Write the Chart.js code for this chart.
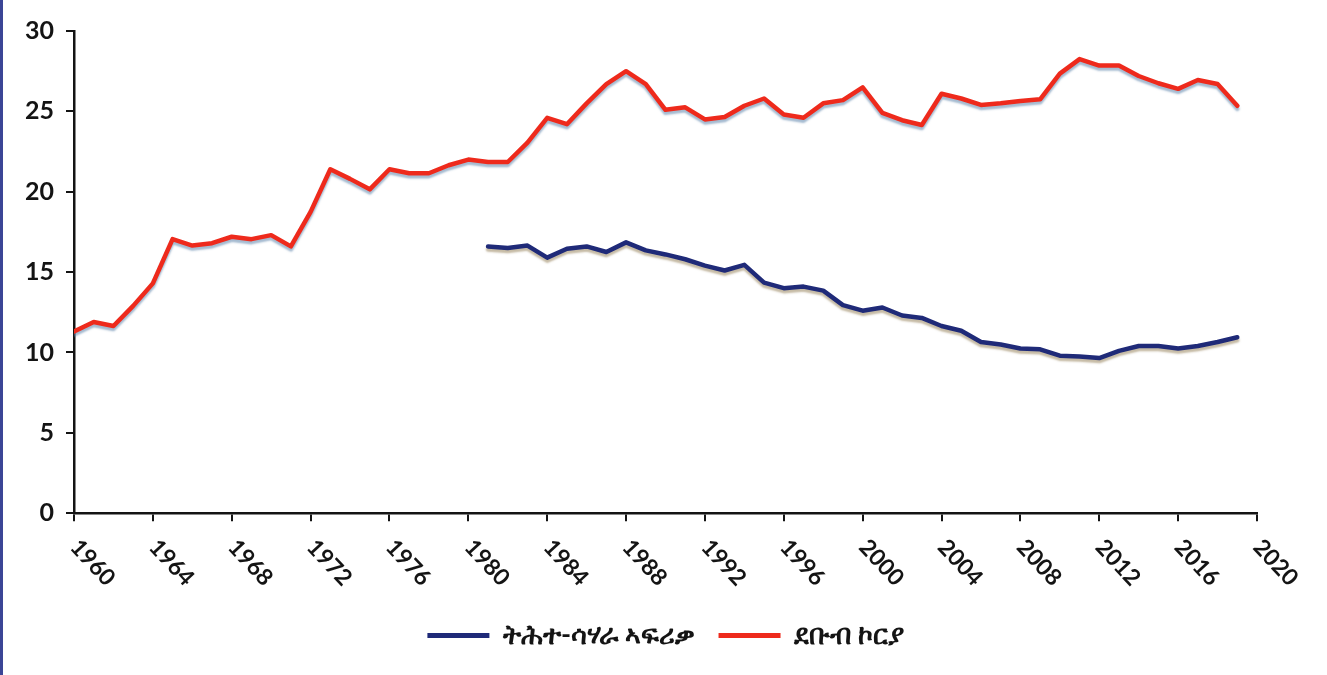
<!DOCTYPE html>
<html>
<head>
<meta charset="utf-8">
<script src="https://cdn.jsdelivr.net/npm/chart.js@4.4.1/dist/chart.umd.min.js"></script>
<style>
  html, body { margin: 0; padding: 0; background: #fff; }
  #wrap { width: 1324px; height: 675px; border-left: 3px solid #3b4596; }
</style>
</head>
<body>
<div id="wrap"><canvas id="chart" width="1324" height="675"></canvas></div>
<script>
// jaren en waarden
const years = [1960, 1961, 1962, 1963, 1964, 1965, 1966, 1967, 1968, 1969,
  1970, 1971, 1972, 1973, 1974, 1975, 1976, 1977, 1978, 1979,
  1980, 1981, 1982, 1983, 1984, 1985, 1986, 1987, 1988, 1989,
  1990, 1991, 1992, 1993, 1994, 1995, 1996, 1997, 1998, 1999,
  2000, 2001, 2002, 2003, 2004, 2005, 2006, 2007, 2008, 2009,
  2010, 2011, 2012, 2013, 2014, 2015, 2016, 2017, 2018, 2019];

// ደቡብ ኮርያ (1960-2019)
const koreaValues = [11.3, 11.9, 11.65, 12.9, 14.3, 17.05, 16.65, 16.8, 17.2, 17.05,
  17.3, 16.6, 18.75, 21.4, 20.8, 20.15, 21.4, 21.15, 21.15, 21.65,
  22.0, 21.85, 21.85, 23.05, 24.6, 24.2, 25.5, 26.7, 27.5, 26.7,
  25.1, 25.25, 24.5, 24.65, 25.35, 25.8, 24.8, 24.6, 25.5, 25.7,
  26.5, 24.9, 24.45, 24.15, 26.1, 25.8, 25.4, 25.5, 25.65, 25.75,
  27.35, 28.25, 27.85, 27.85, 27.2, 26.75, 26.4, 26.95, 26.7, 25.35];

// ትሕተ-ሳሃራ ኣፍሪቃ (1981-2019)
const ssaYears = years.slice(21);
const ssaValues = [16.6, 16.5, 16.65, 15.9, 16.45, 16.6, 16.25, 16.85, 16.35,
  16.1, 15.8, 15.4, 15.1, 15.45, 14.35, 14.0, 14.1, 13.85, 12.95,
  12.6, 12.8, 12.3, 12.15, 11.65, 11.35, 10.65, 10.5, 10.25, 10.2,
  9.8, 9.75, 9.65, 10.1, 10.4, 10.4, 10.25, 10.4, 10.65, 10.95];

const seriesLabels = ['ትሕተ-ሳሃራ ኣፍሪቃ', 'ደቡብ ኮርያ'];

const yearTicks = { min: 1960, max: 2020, step: 4 };
const valueTicks = { min: 0, max: 30, step: 5 };

const fontFamily = 'Lato, "Noto Sans", "DejaVu Sans", sans-serif';
const inkColor = '#141414';

window.onload = function() {

    // schaduw onder de lijnen, zoals in het origineel
    const lineShadow = {
        id: 'lineShadow',
        beforeDatasetDraw(chart, args) {
            const ctx = chart.ctx;
            ctx.save();
            ctx.shadowColor = args.index === 0 ? 'rgba(150,130,90,0.55)' : 'rgba(90,130,170,0.55)';
            ctx.shadowOffsetY = 3;
            ctx.shadowBlur = 2;
        },
        afterDatasetDraw(chart) {
            chart.ctx.restore();
        }
    };

    // schuine jaartallen die naar rechtsonder lopen
    const slantedYears = {
        id: 'slantedYears',
        afterDraw(chart) {
            const xs = chart.scales.x;
            const ctx = chart.ctx;
            ctx.save();
            ctx.font = 'bold 23px ' + fontFamily;
            ctx.fillStyle = inkColor;
            ctx.textAlign = 'left';
            ctx.textBaseline = 'alphabetic';
            xs.ticks.forEach(t => {
                const px = xs.getPixelForValue(t.value);
                ctx.save();
                ctx.translate(px - 5, xs.top + 35);
                ctx.rotate(47 * Math.PI / 180);
                ctx.fillText(String(t.value), 0, 0);
                ctx.restore();
            });
            ctx.restore();
        }
    };

    const ctx = document.getElementById('chart').getContext('2d');
    const myChart = new Chart(ctx, {
        type: 'line',
        data: {
            datasets: [{
                label: seriesLabels[0],
                data: ssaYears.map((y, i) => ({ x: y, y: ssaValues[i] })),
                borderColor: '#1f2a78',
                backgroundColor: '#1f2a78',
                borderWidth: 4.5
            }, {
                label: seriesLabels[1],
                data: years.map((y, i) => ({ x: y, y: koreaValues[i] })),
                borderColor: '#ee2a1c',
                backgroundColor: '#ee2a1c',
                borderWidth: 4.5
            }]
        },
        options: {
            responsive: false,
            animation: false,
            layout: { padding: { top: 31, right: 70, left: 10, bottom: 16 } },
            elements: {
                point: { radius: 0 },
                line: { tension: 0, borderJoinStyle: 'round', borderCapStyle: 'round' }
            },
            scales: {
                x: {
                    type: 'linear',
                    min: yearTicks.min,
                    max: yearTicks.max,
                    ticks: {
                        stepSize: yearTicks.step,
                        callback: v => String(v),
                        color: 'rgba(0,0,0,0)',
                        padding: 14,
                        minRotation: 52,
                        maxRotation: 52,
                        font: { family: fontFamily, size: 19, weight: 'bold' }
                    },
                    grid: { drawOnChartArea: false, tickLength: 8, color: inkColor, lineWidth: 2 },
                    border: { color: inkColor, width: 2.5 }
                },
                y: {
                    min: valueTicks.min,
                    max: valueTicks.max,
                    ticks: {
                        stepSize: valueTicks.step,
                        color: inkColor,
                        padding: 12,
                        font: { family: fontFamily, size: 25, weight: 'bold' }
                    },
                    grid: { drawOnChartArea: false, tickLength: 8, color: inkColor, lineWidth: 2 },
                    border: { color: inkColor, width: 2.5 }
                }
            },
            plugins: {
                tooltip: { enabled: false },
                legend: {
                    position: 'bottom',
                    fullSize: false,
                    labels: {
                        color: inkColor,
                        boxWidth: 62,
                        boxHeight: 5,
                        padding: 24,
                        font: { family: fontFamily, size: 27, weight: 'bold' },
                        generateLabels(chart) {
                            const items = Chart.defaults.plugins.legend.labels.generateLabels(chart);
                            items.forEach(it => { it.lineWidth = 0; });
                            return items;
                        }
                    }
                }
            }
        },
        plugins: [lineShadow, slantedYears]
    });
}
</script>
</body>
</html>
